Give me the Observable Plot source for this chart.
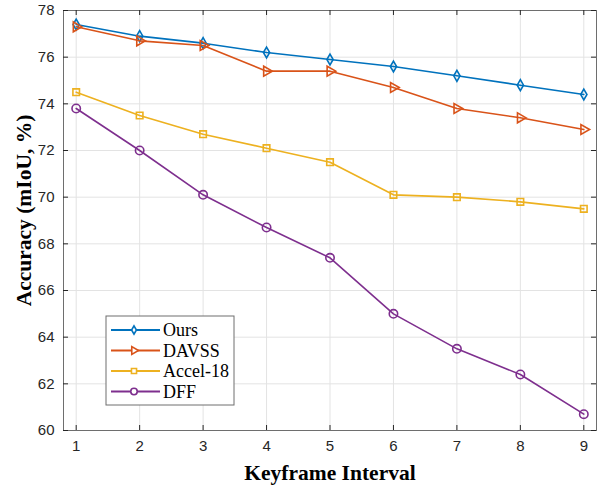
<!DOCTYPE html>
<html>
<head>
<meta charset="utf-8">
<script src="https://cdn.jsdelivr.net/npm/d3@7"></script>
<script src="https://cdn.jsdelivr.net/npm/@observablehq/plot@0.6"></script>
<style>
  html, body { margin: 0; padding: 0; background: #fff; }
  #chart { position: relative; width: 601px; height: 487px; }
</style>
</head>
<body>
<div id="chart"></div>
<script>
// ---- data ----
const intervals = [1, 2, 3, 4, 5, 6, 7, 8, 9];
const ours    = [77.4, 76.9, 76.6, 76.2, 75.9, 75.6, 75.2, 74.8, 74.4];
const davss   = [77.3, 76.7, 76.5, 75.4, 75.4, 74.7, 73.8, 73.4, 72.9];
const accel18 = [74.5, 73.5, 72.7, 72.1, 71.5, 70.1, 70.0, 69.8, 69.5];
const dff     = [73.8, 72.0, 70.1, 68.7, 67.4, 65.0, 63.5, 62.4, 60.7];
const seriesNames = ["Ours", "DAVSS", "Accel-18", "DFF"];
const xTicks = [1, 2, 3, 4, 5, 6, 7, 8, 9];
const yTicks = [60, 62, 64, 66, 68, 70, 72, 74, 76, 78];
const xLabel = "Keyframe Interval";
const yLabel = "Accuracy (mIoU, %)";

// ---- styles ----
const colors = ["#0072BD", "#D95319", "#EDB120", "#7E2F8E"];
const triangleRight = {
  draw(ctx, size) {
    const y = Math.sqrt(size / (Math.sqrt(3) * 3));
    ctx.moveTo(2 * y, 0);
    ctx.lineTo(-y, -Math.sqrt(3) * y);
    ctx.lineTo(-y, Math.sqrt(3) * y);
    ctx.closePath();
  }
};
const symbols = ["diamond", triangleRight, "square", "circle"];
const radii = [3.3, 3.7, 3.7, 4.2];

const allValues = [ours, davss, accel18, dff];
const rows = [];
allValues.forEach((vals, s) => vals.forEach((v, i) => rows.push({series: seriesNames[s], si: s, x: intervals[i], y: v})));

const W = 601, H = 487;
const mL = 63, mR = 5, mT = 10, mB = 57;
const plotW = W - mL - mR, plotH = H - mT - mB;
const tick = 5;

const marks = [
  Plot.gridX(xTicks, {stroke: "#e3e3e3", strokeOpacity: 1}),
  Plot.gridY(yTicks, {stroke: "#e3e3e3", strokeOpacity: 1}),
  Plot.frame({stroke: "#6e6e6e", strokeWidth: 1}),
  // inward ticks on all four sides
  Plot.tickX(xTicks, {x: d => d, insetTop: plotH - tick, stroke: "#262626"}),
  Plot.tickX(xTicks, {x: d => d, insetBottom: plotH - tick, stroke: "#262626"}),
  Plot.tickY(yTicks, {y: d => d, insetRight: plotW - tick, stroke: "#262626"}),
  Plot.tickY(yTicks, {y: d => d, insetLeft: plotW - tick, stroke: "#262626"}),
  Plot.axisX(xTicks, {tickSize: 0, tickPadding: 10, fontSize: 15, fill: "#262626", label: null}),
  Plot.axisY(yTicks, {tickSize: 0, tickPadding: 9, fontSize: 15, fill: "#262626", label: null}),
];
seriesNames.forEach((name, s) => {
  const d = rows.filter(r => r.si === s);
  marks.push(Plot.line(d, {x: "x", y: "y", stroke: colors[s], strokeWidth: 1.6}));
  marks.push(Plot.dot(d, {x: "x", y: "y", stroke: colors[s], fill: "white", fillOpacity: 0, strokeWidth: 1.6, symbol: symbols[s], r: radii[s]}));
});
marks.push(Plot.text([xLabel], {frameAnchor: "bottom", lineAnchor: "middle", textAnchor: "middle", dy: 43, fontSize: 21.5, fontWeight: "bold", fontFamily: "Liberation Serif", fill: "#000"}));
marks.push(Plot.text([yLabel], {frameAnchor: "left", lineAnchor: "middle", textAnchor: "middle", rotate: -90, dx: -39, dy: -10, fontSize: 21.5, fontWeight: "bold", fontFamily: "Liberation Serif", fill: "#000"}));

const chart = Plot.plot({
  width: W, height: H,
  marginLeft: mL, marginRight: mR, marginTop: mT, marginBottom: mB,
  style: {fontFamily: "Liberation Sans, Arial, sans-serif", fontSize: "15px", background: "#fff"},
  x: {domain: [0.8, 9.2], type: "linear"},
  y: {domain: [60, 78], type: "linear"},
  marks
});
document.getElementById("chart").appendChild(chart);

// ---- legend (inside plot, lower-left) ----
const svg = d3.select(chart);
const lg = svg.append("g").attr("transform", "translate(106,316)");
lg.append("rect").attr("width", 128).attr("height", 89).attr("fill", "#fff").attr("stroke", "#6e6e6e").attr("stroke-width", 1);
seriesNames.forEach((name, s) => {
  const cy = 14 + s * 20.5;
  lg.append("line").attr("x1", 5).attr("x2", 54).attr("y1", cy).attr("y2", cy).attr("stroke", colors[s]).attr("stroke-width", 2);
  const sym = typeof symbols[s] === "string" ? {diamond: d3.symbolDiamond, square: d3.symbolSquare, circle: d3.symbolCircle}[symbols[s]] : symbols[s];
  lg.append("path").attr("d", d3.symbol(sym, Math.PI * radii[s] * radii[s] * 0.6)()).attr("transform", `translate(28,${cy})`)
    .attr("fill", "#fff").attr("stroke", colors[s]).attr("stroke-width", 1.6);
  lg.append("text").attr("x", 57).attr("y", cy).attr("dy", "0.35em").attr("text-anchor", "start")
    .attr("font-family", "Liberation Serif").attr("font-size", 18).attr("fill", "#000").text(name);
});
</script>
</body>
</html>
